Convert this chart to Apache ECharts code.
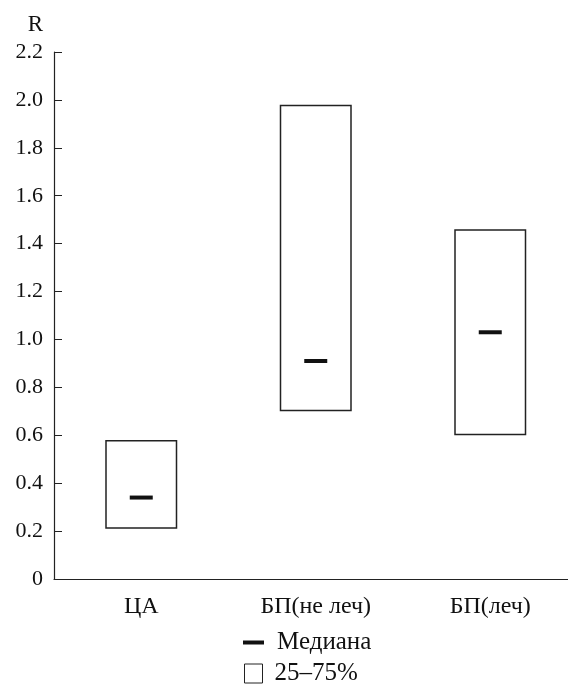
<!DOCTYPE html>
<html>
<head>
<meta charset="utf-8">
<script src="https://cdn.jsdelivr.net/npm/echarts@6/dist/echarts.min.js"></script>
<style>html,body{margin:0;padding:0;background:#fff;}#c{width:568px;height:686px;}</style>
</head>
<body>
<div id="c"></div>
<script>
const categories = ['ЦА', 'БП(не леч)', 'БП(леч)'];
const q1 = [0.21, 0.70, 0.60];
const q3 = [0.58, 1.98, 1.46];
const median = [0.34, 0.91, 1.03];
const yTicks = [0, 0.2, 0.4, 0.6, 0.8, 1.0, 1.2, 1.4, 1.6, 1.8, 2.0, 2.2];
const seriesNames = ['Медиана', '25–75%'];

const FONT = '"Liberation Serif", "DejaVu Serif", serif';
const chart = echarts.init(document.getElementById('c'), null, {renderer: 'canvas'});
chart.setOption({
  animation: false,
  backgroundColor: '#fff',
  textStyle: {fontFamily: FONT},
  grid: {left: 54, top: 52, height: 527, width: 523.5, containLabel: false, outerBoundsMode: 'none'},
  xAxis: {
    type: 'category',
    data: categories,
    axisLine: {lineStyle: {color: '#222', width: 1.2}},
    axisTick: {alignWithLabel: true, inside: true, length: 8, lineStyle: {color: '#222'}},
    axisLabel: {color: '#111', fontSize: 24, fontFamily: FONT, margin: 16}
  },
  yAxis: {
    type: 'value',
    min: 0, max: 2.2, interval: 0.2,
    name: 'R',
    nameLocation: 'end',
    nameGap: 16,
    nameTextStyle: {color: '#111', fontSize: 23, fontFamily: FONT, align: 'right', padding: [0, 11, 0, 0]},
    splitLine: {show: false},
    axisLine: {show: true, lineStyle: {color: '#222', width: 1.2}},
    axisTick: {show: true, inside: true, length: 8, lineStyle: {color: '#222'}},
    axisLabel: {
      color: '#111', fontSize: 22, fontFamily: FONT, margin: 11,
      formatter: v => {
        const t = yTicks.find(x => Math.abs(x - v) < 1e-6);
        if (t === undefined) return '';
        return t === 0 ? '0' : t.toFixed(1);
      }
    }
  },
  legend: [
    {
      data: [{name: seriesNames[0], icon: 'rect'}],
      left: 243, top: 630, padding: 0,
      itemWidth: 21, itemHeight: 4, itemGap: 0,
      textStyle: {color: '#111', fontSize: 25, fontFamily: FONT, padding: [0, 0, 0, 8]},
      selectedMode: false
    },
    {
      data: [{name: seriesNames[1], icon: 'rect'}],
      left: 244, top: 661, padding: 0,
      itemWidth: 18, itemHeight: 19, itemGap: 0,
      itemStyle: {color: '#fff', borderColor: '#222', borderWidth: 1},
      textStyle: {color: '#111', fontSize: 25, fontFamily: FONT, padding: [0, 0, 0, 7]},
      selectedMode: false
    }
  ],
  series: [
    {
      name: 'base', type: 'bar', stack: 'box', barWidth: 72,
      itemStyle: {color: 'rgba(0,0,0,0)'},
      data: q1, silent: true
    },
    {
      name: seriesNames[1], type: 'bar', stack: 'box', barWidth: 72,
      itemStyle: {color: '#fff', borderColor: '#222', borderWidth: 1.5},
      data: q3.map((v, i) => +(v - q1[i]).toFixed(4))
    },
    {
      name: seriesNames[0], type: 'scatter',
      symbol: 'rect', symbolSize: [23, 4],
      itemStyle: {color: '#111', opacity: 1},
      data: median, z: 5
    }
  ]
});
</script>
</body>
</html>
